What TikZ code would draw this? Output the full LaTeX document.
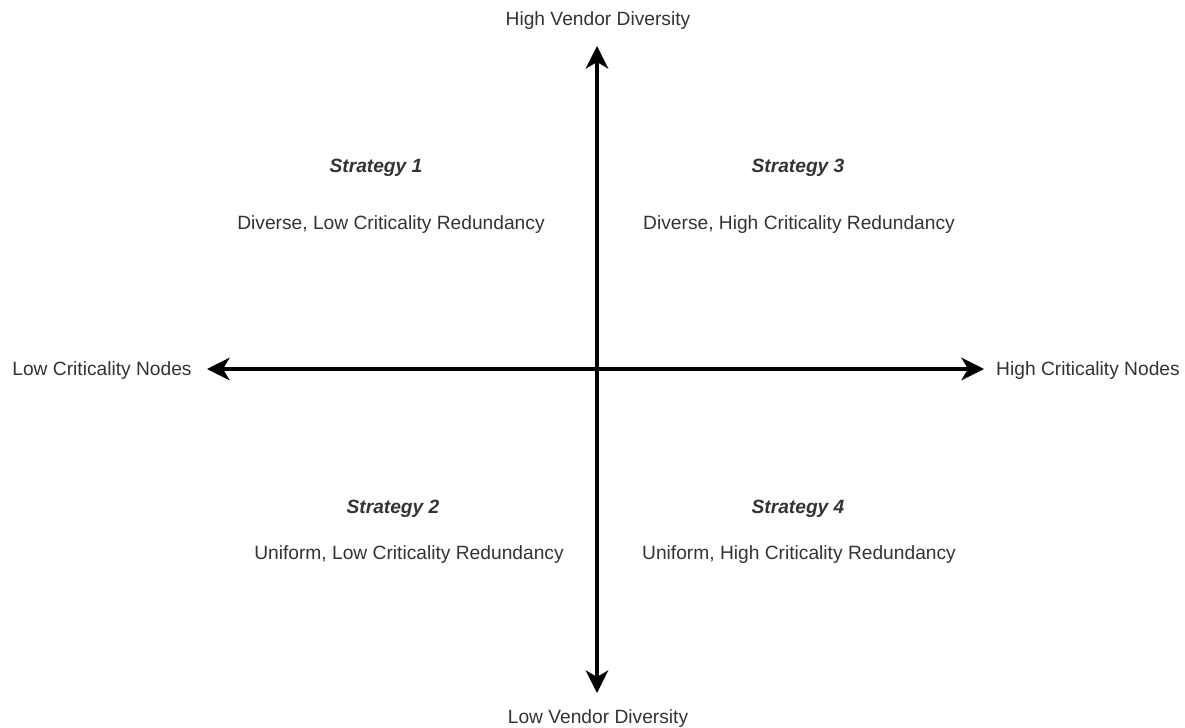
\documentclass[tikz,border=0pt]{standalone}
\usepackage{fontspec}
\setmainfont{Liberation Sans}
\usetikzlibrary{arrows.meta}
\definecolor{labelgrey}{HTML}{333333}
\begin{document}
\begin{tikzpicture}[x=0.75pt,y=-0.75pt,
  axislabel/.style={text=labelgrey,font=\fontsize{14.4}{17}\selectfont,inner sep=0pt,anchor=center},
  strategyhead/.style={text=labelgrey,font=\fontsize{14.4}{17}\selectfont\bfseries\itshape,inner sep=0pt,anchor=center},
  strategytext/.style={axislabel},
  axis/.style={line width=2.4pt,black,{Stealth[length=17pt,width=17pt,inset=5pt]}-{Stealth[length=17pt,width=17pt,inset=5pt]}}]
  \useasboundingbox (0,0) rectangle (1185,728);

  % axis end points
  \coordinate (top) at (597,46);
  \coordinate (bottom) at (597,693);
  \coordinate (left) at (207,369);
  \coordinate (right) at (984,369);

  % axis titles
  \node[axislabel] (hvd) at (598,21) {High Vendor Diversity};
  \node[axislabel] (lvd) at (598,719) {Low Vendor Diversity};
  \node[axislabel] (lcn) at (102,371) {Low Criticality Nodes};
  \node[axislabel] (hcn) at (1088,371) {High Criticality Nodes};

  % quadrants
  \node[strategyhead] (s1) at (376,168) {Strategy 1};
  \node[strategytext] (d1) at (391,225) {Diverse, Low Criticality Redundancy};
  \node[strategyhead] (s3) at (798,168) {Strategy 3};
  \node[strategytext] (d3) at (799,225) {Diverse, High Criticality Redundancy};
  \node[strategyhead] (s2) at (393,509) {Strategy 2};
  \node[strategytext] (d2) at (409,555) {Uniform, Low Criticality Redundancy};
  \node[strategyhead] (s4) at (798,509) {Strategy 4};
  \node[strategytext] (d4) at (799,555) {Uniform, High Criticality Redundancy};

  % axes
  \draw[axis] (bottom) -- (top);
  \draw[axis] (left) -- (right);
\end{tikzpicture}
\end{document}
